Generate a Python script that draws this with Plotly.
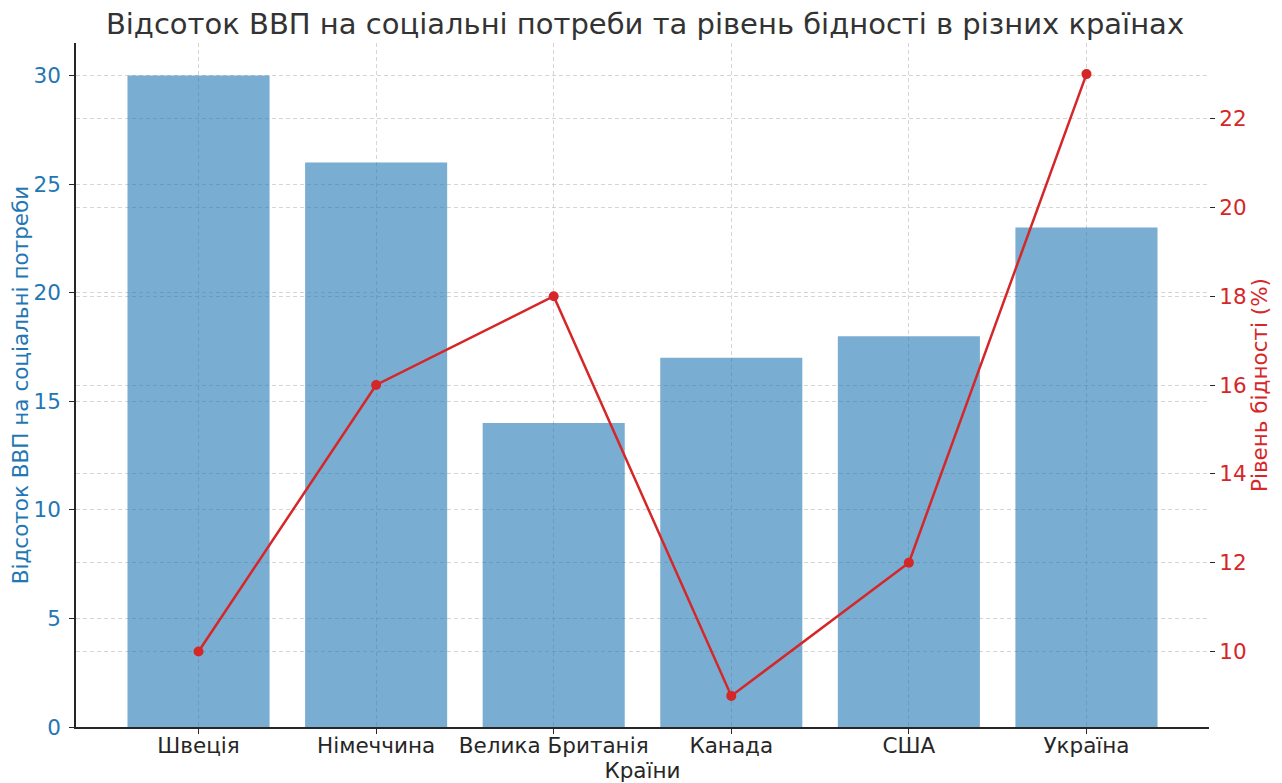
import plotly.graph_objects as go

countries = ["Швеція", "Німеччина", "Велика Британія", "Канада", "США", "Україна"]
gdp_social = [30, 26, 14, 17, 18, 23]
poverty = [10, 16, 18, 9, 12, 23]

title = "Відсоток ВВП на соціальні потреби та рівень бідності в різних країнах"
x_title = "Країни"
y1_title = "Відсоток ВВП на соціальні потреби"
y2_title = "Рівень бідності (%)"

FONT = "DejaVu Sans"
BLUE = "#1f77b4"
RED = "#d62728"
GRID = "rgba(195,195,195,0.7)"
FS = 21.5

fig = go.Figure()
fig.add_trace(go.Bar(x=list(range(len(countries))), y=gdp_social, width=0.8,
                     marker=dict(color="rgba(31,119,180,0.6)", line=dict(width=0)),
                     name=y1_title, yaxis="y"))
fig.add_trace(go.Scatter(x=list(range(len(countries))), y=poverty, mode="lines+markers",
                         line=dict(color=RED, width=2.5), marker=dict(color=RED, size=10),
                         name=y2_title, yaxis="y2"))

fig.update_layout(
    width=1274, height=775,
    margin=dict(l=68, r=73, t=35, b=56),
    plot_bgcolor="white", paper_bgcolor="white",
    showlegend=False,
    font=dict(family=FONT, size=FS, color="#262626"),
    title=dict(text=title, x=0.5, xanchor="center", y=0.9794, yanchor="middle",
               font=dict(family=FONT, size=29, color="#333333")),
    xaxis=dict(
        range=[-0.69, 5.69], tickmode="array", tickvals=list(range(len(countries))),
        ticktext=countries, showline=True, linecolor="#262626", linewidth=1.5,
        ticks="outside", ticklen=5, tickcolor="#262626", automargin=False,
        ticklabelstandoff=-7,
        showgrid=True, gridcolor=GRID, griddash="4px,3px", gridwidth=1,
        zeroline=False,
        tickfont=dict(size=FS, color="#262626"),
        title=dict(text=x_title, standoff=0, font=dict(size=FS, color="#262626")),
    ),
    yaxis=dict(
        range=[0, 31.5], tickvals=[0, 5, 10, 15, 20, 25, 30],
        showline=True, linecolor="#262626", linewidth=1.5,
        ticks="outside", ticklen=5, tickcolor="#262626", automargin=False,
        ticklabelstandoff=4,
        showgrid=True, gridcolor=GRID, griddash="4px,3px", gridwidth=1,
        zeroline=False,
        tickfont=dict(size=FS, color=BLUE),
        title=dict(text=y1_title, standoff=8, font=dict(size=FS, color=BLUE)),
    ),
    yaxis2=dict(
        range=[8.3, 23.7], tickvals=[10, 12, 14, 16, 18, 20, 22],
        overlaying="y", side="right", anchor="x",
        showline=False, ticks="outside", ticklen=5, tickcolor="#262626", automargin=False,
        showgrid=True, gridcolor=GRID, griddash="4px,3px", gridwidth=1,
        zeroline=False,
        tickfont=dict(size=FS, color=RED),
        title=dict(text=y2_title, standoff=2, font=dict(size=FS, color=RED)),
    ),
)

fig.write_html("out.html")
